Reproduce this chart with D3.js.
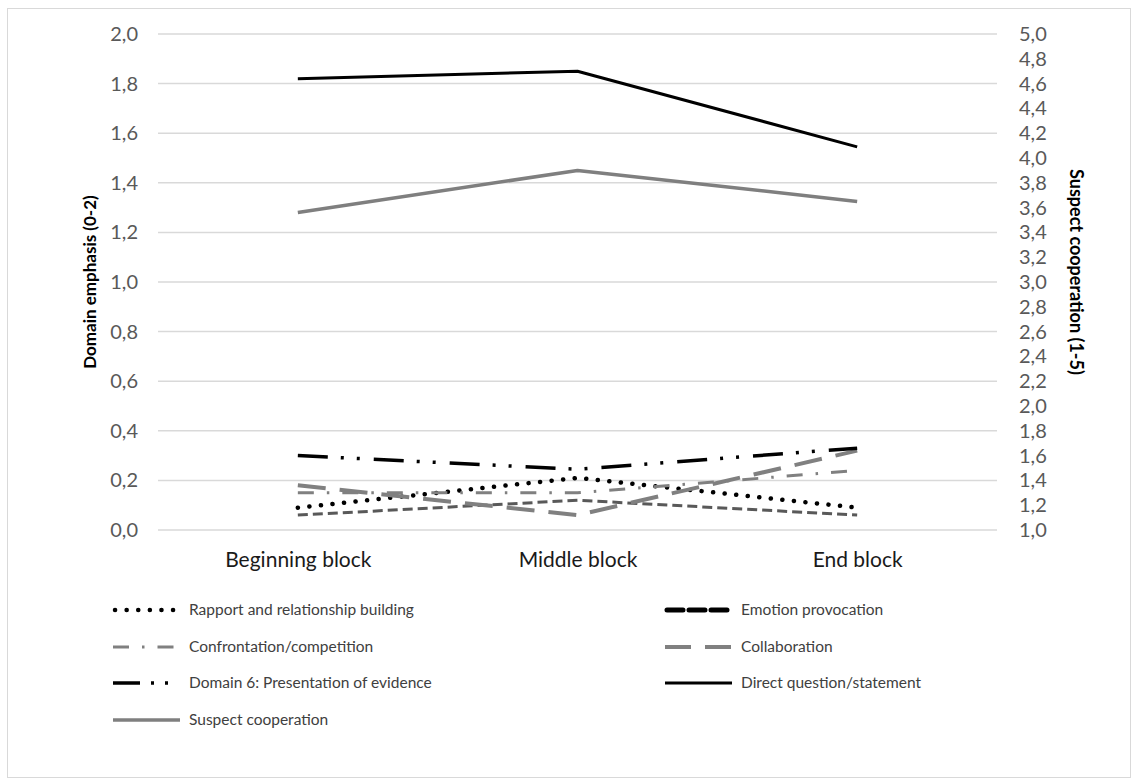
<!DOCTYPE html>
<html>
<head>
<meta charset="utf-8">
<script src="https://cdn.jsdelivr.net/npm/d3@7/dist/d3.min.js"></script>
<style>
  html, body { margin: 0; padding: 0; background: #fff; }
  svg { display: block; font-family: Lato, "Open Sans", sans-serif; }
</style>
</head>
<body>
<svg id="chart" width="1136" height="783"></svg>
<script>
// Interview blocks on the x axis
const blocks = ["Beginning block", "Middle block", "End block"];

// Domain emphasis (0-2), left axis
const rapport       = [0.09, 0.21, 0.09];
const emotion       = [0.06, 0.12, 0.06];
const confrontation = [0.15, 0.15, 0.24];
const collaboration = [0.18, 0.06, 0.32];
const evidence      = [0.30, 0.245, 0.33];
const directQuestion = [1.82, 1.85, 1.545];

// Suspect cooperation (1-5), right axis
const cooperation = [3.56, 3.90, 3.65];

// Tick values for both axes
const leftTicks  = [0, 0.2, 0.4, 0.6, 0.8, 1.0, 1.2, 1.4, 1.6, 1.8, 2.0];
const rightTicks = [1.0, 1.2, 1.4, 1.6, 1.8, 2.0, 2.2, 2.4, 2.6, 2.8, 3.0,
                    3.2, 3.4, 3.6, 3.8, 4.0, 4.2, 4.4, 4.6, 4.8, 5.0];

const seriesNames = [
  "Rapport and relationship building",
  "Emotion provocation",
  "Confrontation/competition",
  "Collaboration",
  "Domain 6: Presentation of evidence",
  "Direct question/statement",
  "Suspect cooperation"
];

const svg = d3.select("#chart");

// chart frame
svg.append("rect")
  .attr("x", 7.5).attr("y", 8.5)
  .attr("width", 1123).attr("height", 769)
  .attr("fill", "#fff").attr("stroke", "#d9d9d9").attr("stroke-width", 1);

const plot = { left: 158, right: 997, top: 34, bottom: 530 };

const x = d3.scalePoint().domain(blocks).range([plot.left, plot.right]).padding(0.5);
const yL = d3.scaleLinear().domain([0, 2]).range([plot.bottom, plot.top]);
const yR = d3.scaleLinear().domain([1, 5]).range([plot.bottom, plot.top]);

const comma = d => d3.format(".1f")(d).replace(".", ",");

// horizontal gridlines
svg.append("g")
  .selectAll("line")
  .data(leftTicks)
  .join("line")
  .attr("x1", plot.left).attr("x2", plot.right)
  .attr("y1", d => yL(d)).attr("y2", d => yL(d))
  .attr("stroke", "#d9d9d9").attr("stroke-width", 1.5);

// left axis
const gL = svg.append("g")
  .attr("transform", `translate(${plot.left - 20},0)`)
  .call(d3.axisLeft(yL).tickValues(leftTicks).tickFormat(comma).tickSize(0).tickPadding(0));
gL.select(".domain").remove();
gL.selectAll("text").attr("fill", "#595959").style("font-size", "20px").style("font-family", "Lato, sans-serif");

// right axis
const gR = svg.append("g")
  .attr("transform", `translate(${plot.right + 22},0)`)
  .call(d3.axisRight(yR).tickValues(rightTicks).tickFormat(comma).tickSize(0).tickPadding(0));
gR.select(".domain").remove();
gR.selectAll("text").attr("fill", "#595959").style("font-size", "20px").style("font-family", "Lato, sans-serif");

// category axis labels
const gX = svg.append("g")
  .attr("transform", `translate(0,${plot.bottom + 22})`)
  .call(d3.axisBottom(x).tickSize(0).tickPadding(0));
gX.select(".domain").remove();
gX.selectAll("text").attr("fill", "#1a1a1a").attr("dy", "0.71em")
  .style("font-size", "21px").style("font-family", "Lato, sans-serif");

// axis titles
svg.append("text")
  .attr("transform", `translate(96,${(plot.top + plot.bottom) / 2}) rotate(-90)`)
  .attr("text-anchor", "middle")
  .style("font-size", "17px").style("font-weight", "bold")
  .attr("fill", "#000")
  .text("Domain emphasis (0-2)");

svg.append("text")
  .attr("transform", `translate(1076,${(plot.top + plot.bottom) / 2 - 10}) rotate(90)`)
  .attr("text-anchor", "middle")
  .attr("dy", "0.35em")
  .style("font-size", "18px").style("font-weight", "bold")
  .attr("fill", "#000")
  .text("Suspect cooperation (1-5)");

// series definitions (values + stroke styles)
const series = [
  { name: seriesNames[0], values: rapport, axis: yL, color: "#000", width: 4.5, dash: "0.1 11.5", cap: "round",
    legend: { color: "#000", width: 4.5, dash: "0.1 11.5", cap: "round" } },
  { name: seriesNames[1], values: emotion, axis: yL, color: "#595959", width: 3, dash: "10 5", cap: "butt",
    legend: { color: "#000", width: 5, dash: "16 6", cap: "round" } },
  { name: seriesNames[2], values: confrontation, axis: yL, color: "#808080", width: 3, dash: "16 13 2.5 13", cap: "butt",
    legend: { color: "#808080", width: 3, dash: "16 13 2.5 13", cap: "butt" } },
  { name: seriesNames[3], values: collaboration, axis: yL, color: "#808080", width: 4, dash: "28 14", cap: "butt",
    legend: { color: "#808080", width: 4, dash: "26 14", cap: "butt" } },
  { name: seriesNames[4], values: evidence, axis: yL, color: "#000", width: 3.5, dash: "30 13 3 13 3 14", cap: "butt",
    legend: { color: "#000", width: 3.5, dash: "27 11 3 11 3 30", cap: "butt" } },
  { name: seriesNames[5], values: directQuestion, axis: yL, color: "#000", width: 3, dash: null, cap: "butt",
    legend: { color: "#000", width: 3, dash: null, cap: "butt" } },
  { name: seriesNames[6], values: cooperation, axis: yR, color: "#7f7f7f", width: 3.5, dash: null, cap: "butt",
    legend: { color: "#7f7f7f", width: 3.5, dash: null, cap: "butt" } }
];

const lineGroup = svg.append("g");
series.forEach(s => {
  const line = d3.line()
    .x((d, i) => x(blocks[i]))
    .y(d => s.axis(d));
  lineGroup.append("path")
    .datum(s.values)
    .attr("d", line)
    .attr("fill", "none")
    .attr("stroke", s.color)
    .attr("stroke-width", s.width)
    .attr("stroke-linecap", s.cap)
    .attr("stroke-linejoin", "round")
    .attr("stroke-dasharray", s.dash);
});

// legend: two columns, four rows
const legendCols = [113, 665];
const legendRows = [610, 647, 683, 720];
const legend = svg.append("g");
series.forEach((s, i) => {
  const cx = legendCols[i % 2];
  const cy = legendRows[Math.floor(i / 2)];
  legend.append("line")
    .attr("x1", cx + (s.legend.cap === "round" ? 2 : 0)).attr("x2", cx + 67)
    .attr("y1", cy).attr("y2", cy)
    .attr("stroke", s.legend.color)
    .attr("stroke-width", s.legend.width)
    .attr("stroke-linecap", s.legend.cap)
    .attr("stroke-dasharray", s.legend.dash);
  legend.append("text")
    .attr("x", cx + 76).attr("y", cy)
    .attr("dy", "0.35em")
    .attr("fill", "#404040")
    .style("font-size", "15.5px")
    .text(s.name);
});
</script>
</body>
</html>
